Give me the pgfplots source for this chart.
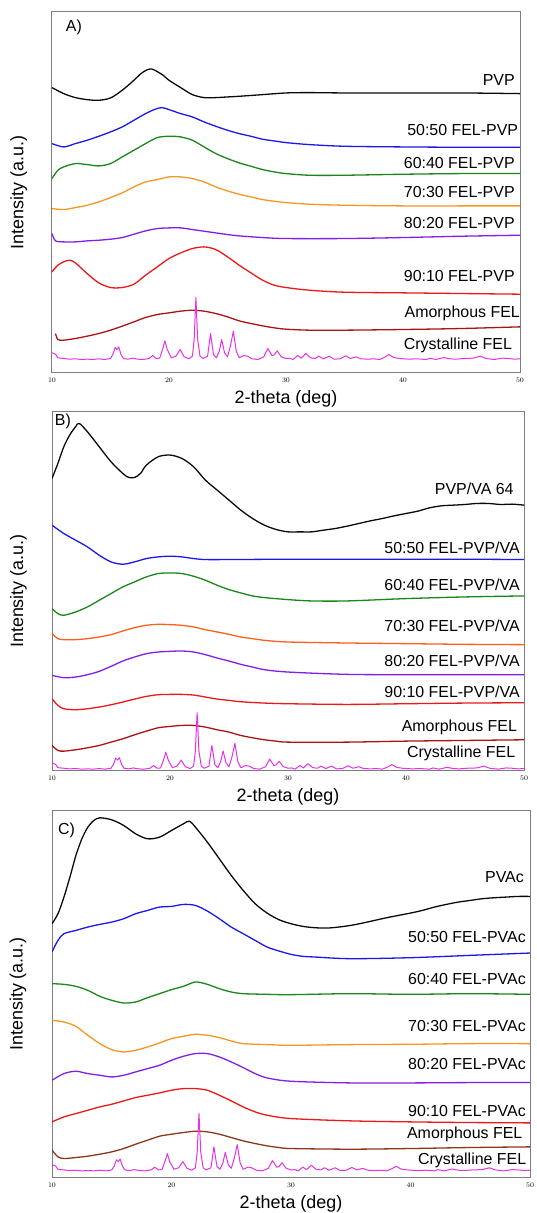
\documentclass[border=0pt]{standalone}
\usepackage{fontspec}
\setmainfont{Liberation Sans}
\usepackage{pgfplots}
\pgfplotsset{compat=1.18}
\usepackage{pgfplotstable}

\definecolor{cblack}{RGB}{10,10,10}
\definecolor{cblue}{RGB}{25,25,235}
\definecolor{cgreen}{RGB}{25,135,25}
\definecolor{corange}{RGB}{247,150,35}
\definecolor{corangered}{RGB}{255,95,30}
\definecolor{cpurple}{RGB}{130,30,230}
\definecolor{cred}{RGB}{235,25,25}
\definecolor{cdarkred}{RGB}{170,20,20}
\definecolor{cbrown}{RGB}{140,55,25}
\definecolor{cmagenta}{RGB}{230,50,230}
\definecolor{framegray}{RGB}{125,125,125}

\pgfplotstableread{
x I
10.0 20
10.3 16
10.5 5
11 3
11.5 1
12 2
12.5 0
13 1
13.5 0
14 2
14.5 0
15.0 3
15.2 15
15.4 36
15.55 30
15.7 38
15.9 15
16.1 3
16.5 1
16.9 4
17.3 1
17.8 0
18.3 3
18.6 12
18.9 3
19.2 4
19.45 30
19.65 56
19.85 30
20.2 5
20.6 10
20.95 30
21.3 8
21.7 2
22.0 10
22.15 60
22.3 186
22.45 60
22.65 10
22.9 3
23.3 10
23.55 78
23.8 15
24.05 5
24.3 25
24.5 60
24.75 20
25.0 8
25.25 40
25.5 85
25.75 25
26.0 5
26.4 12
26.7 10
27.1 2
27.6 0
28.1 8
28.45 33
28.8 12
29.0 14
29.25 26
29.6 8
30.0 3
30.3 4
30.6 0
31.0 12
31.3 4
31.7 18
32.1 5
32.5 3
32.8 10
33.2 2
33.7 10
34.1 1
34.6 2
35.1 11
35.5 3
36.0 8
36.4 2
37.0 1
37.5 2
38.0 0
38.5 8
38.8 15
39.2 6
39.7 3
40.5 1
41.2 2
42.0 0
42.3 4
42.8 0
43.5 6
44.0 2
44.5 1
45.2 3
46.0 4
46.6 10
47.1 3
47.8 0
48.5 4
49.0 3
49.5 1
50.0 2
}\crystFEL

\pgfplotsset{
  xrd/.style={
    scale only axis, anchor=south west,
    xmin=10, xmax=50, ymin=0,
    axis line style={draw=framegray, line width=1bp},
    xtick={10,20,30,40,50}, ytick=\empty,
    major tick length=0pt,
    xticklabel style={font=\fontsize{7.5}{8}\selectfont, anchor=center, yshift=-7.5bp},
    xlabel={2-theta (deg)}, ylabel={Intensity (a.u.)},
    label style={font=\fontsize{18}{20}\selectfont},
    xlabel style={at={(axis description cs:0.5,0)}, anchor=center, yshift=-26.5bp},
    ylabel style={at={(axis description cs:-0.071,0.5)}, anchor=center},
    clip mode=individual,
    every axis plot/.append style={line width=1.3bp, no marks, line join=round},
  },
}
\tikzset{
  lbl/.style={anchor=east, inner sep=0pt, font=\fontsize{16}{18}\selectfont},
  plbl/.style={anchor=west, inner sep=0pt, font=\fontsize{16}{18}\selectfont},
  cryst/.style={cmagenta, line width=1bp},
}

\begin{document}
\begin{tikzpicture}
\path[use as bounding box] (0,0) rectangle (537bp,1213bp);

% ---------------- Panel A ----------------
\begin{axis}[xrd, at={(52bp,840.5bp)}, width=468bp, height=360.5bp, ymax=1082]
\addplot[cblack, smooth] coordinates {(10,855)(11,837)(12,825)(13,819)(14,817)(15,824)(16,847)(17,877)(17.6,897)(18.1,908)(18.5,911)(18.9,905)(19.5,892)(20,877)(21,855)(22,834)(23,825)(24,825)(25,827)(26,829)(28,834)(30,839)(32,840)(35,839)(40,839)(45,839)(50,837)};
\addplot[cblue, smooth] coordinates {(10,687)(11,677)(12,687)(13,697)(14,709)(15,722)(16,737)(17,757)(18,777)(18.8,790)(19.4,795)(20,789)(21,777)(22,767)(23,752)(24,739)(25,727)(26,717)(27,709)(28,700)(29,695)(30,690)(32,684)(35,679)(40,677)(45,676)(50,676)};
\addplot[cgreen, smooth] coordinates {(10,582)(10.5,607)(11,617)(12,627)(13,624)(14,620)(15,627)(16,647)(17,667)(18,687)(19,705)(20,709)(21,707)(22,697)(23,677)(24,657)(25,642)(26,629)(27,619)(28,609)(29,602)(30,597)(32,592)(35,592)(40,595)(45,597)(50,597)};
\addplot[corange, smooth] coordinates {(10,492)(11,489)(12,495)(13,502)(14,512)(15,525)(16,539)(17,557)(18,572)(19,579)(20,587)(21,587)(22,582)(23,572)(24,557)(25,545)(26,535)(27,527)(28,519)(29,514)(30,510)(32,505)(35,502)(40,500)(45,500)(50,500)};
\addplot[cpurple, smooth] coordinates {(10,417)(10.3,395)(11,392)(12,392)(13,395)(14,397)(15,400)(16,405)(17,415)(18,425)(19,432)(20,434)(21,434)(22,429)(23,424)(24,419)(25,414)(26,410)(28,405)(30,402)(35,402)(40,405)(45,409)(50,412)};
\addplot[cred, smooth] coordinates {(10,302)(10.5,322)(11,332)(11.5,337)(12,329)(13,297)(14,269)(15,255)(16,255)(17,265)(18,292)(19,317)(20,342)(21,359)(22,372)(23,377)(24,369)(25,347)(26,322)(27,299)(28,277)(29,262)(30,255)(32,247)(35,241)(40,239)(45,237)(50,235)};
\addplot[cdarkred, smooth] coordinates {(10.3,117)(10.5,99)(11,97)(12,102)(13,109)(14,117)(15,127)(16,139)(17,152)(18,165)(19,174)(20,179)(21,184)(22,187)(23,184)(24,177)(25,167)(26,155)(27,147)(28,140)(29,134)(30,130)(32,127)(35,127)(40,129)(45,132)(50,137)};
\addplot[cryst] table[x=x, y expr=\thisrow{I}+39] {\crystFEL};
\node[plbl] at (axis cs:11.17,1035) {A)};
\node[lbl] at (axis cs:49.56,877) {PVP};
\node[lbl] at (axis cs:49.85,727) {50:50 FEL-PVP};
\node[lbl] at (axis cs:49.56,629) {60:40 FEL-PVP};
\node[lbl] at (axis cs:49.56,542) {70:30 FEL-PVP};
\node[lbl] at (axis cs:49.56,449) {80:20 FEL-PVP};
\node[lbl] at (axis cs:49.56,289) {90:10 FEL-PVP};
\node[lbl] at (axis cs:50,177) {Amorphous FEL};
\node[lbl] at (axis cs:49.33,80) {Crystalline FEL};
\end{axis}

% ---------------- Panel B ----------------
\begin{axis}[xrd, at={(52bp,442.5bp)}, width=472bp, height=358.8bp, ymax=1075]
\addplot[cblack, smooth] coordinates {(10,875)(10.5,920)(11,970)(11.5,1005)(12,1030)(12.3,1040)(13,1015)(14,970)(15,925)(16,890)(16.5,878)(17,878)(17.5,890)(18,915)(19,940)(20,945)(21,935)(22,910)(23,870)(24,840)(25,810)(26,780)(27,755)(28,735)(29,722)(30,715)(31,715)(32,715)(33,720)(34,725)(35,732)(36,740)(37,748)(38,755)(39,763)(40,770)(41,777)(42,787)(43,793)(44,795)(45,797)(46,800)(47,800)(48,797)(49,798)(50,795)};
\addplot[cblue, smooth] coordinates {(10,735)(11,710)(12,690)(13,670)(14,645)(15,625)(16,618)(17,625)(18,635)(19,640)(20,642)(21,640)(22,635)(23,632)(25,632)(30,633)(35,633)(40,633)(45,633)(50,632)};
\addplot[cgreen, smooth] coordinates {(10,485)(10.5,470)(11,465)(12,475)(13,490)(14,510)(15,530)(16,550)(17,565)(18,580)(19,590)(20,592)(21,590)(22,582)(23,570)(24,555)(25,542)(26,532)(27,523)(28,518)(30,512)(32,508)(35,508)(40,515)(45,520)(50,523)};
\addplot[corangered, smooth] coordinates {(10,410)(10.5,395)(11,392)(12,392)(13,395)(14,400)(15,407)(16,418)(17,428)(18,435)(19,438)(20,437)(21,435)(22,430)(23,422)(24,415)(25,408)(26,400)(27,395)(28,390)(30,385)(35,382)(40,380)(45,378)(50,377)};
\addplot[cpurple, smooth] coordinates {(10,285)(11,278)(12,280)(13,287)(14,297)(15,312)(16,328)(17,340)(18,350)(19,355)(20,357)(21,358)(22,355)(23,347)(24,337)(25,328)(26,318)(27,310)(28,302)(30,295)(35,288)(40,287)(45,287)(50,287)};
\addplot[cred, smooth] coordinates {(10,215)(10.5,195)(11,185)(12,182)(13,185)(14,190)(15,197)(16,205)(17,214)(18,222)(19,227)(20,228)(21,228)(22,226)(23,220)(24,214)(25,210)(26,206)(28,202)(30,200)(35,198)(40,200)(45,202)(50,203)};
\addplot[cdarkred, smooth] coordinates {(10,75)(10.5,60)(11,58)(12,62)(13,68)(14,75)(15,85)(16,95)(17,107)(18,118)(19,128)(20,132)(21,135)(22,135)(23,130)(24,122)(25,115)(26,105)(27,98)(28,92)(29,88)(30,85)(35,85)(40,88)(45,90)(50,92)};
\addplot[cryst] table[x=x, y expr=\thisrow{I}*0.91+4] {\crystFEL};
\node[plbl] at (axis cs:10.23,1045) {B)};
\node[lbl] at (axis cs:49.13,843) {PVP/VA 64};
\node[lbl] at (axis cs:49.65,668) {50:50 FEL-PVP/VA};
\node[lbl] at (axis cs:49.65,557) {60:40 FEL-PVP/VA};
\node[lbl] at (axis cs:49.65,435) {70:30 FEL-PVP/VA};
\node[lbl] at (axis cs:49.65,328) {80:20 FEL-PVP/VA};
\node[lbl] at (axis cs:49.65,235) {90:10 FEL-PVP/VA};
\node[lbl] at (axis cs:49.42,130) {Amorphous FEL};
\node[lbl] at (axis cs:49.27,50) {Crystalline FEL};
\end{axis}

% ---------------- Panel C ----------------
\begin{axis}[xrd, at={(52bp,35.5bp)}, width=478bp, height=367bp, ymax=1102]
\addplot[cblack, smooth] coordinates {(10,762)(10.5,792)(11,842)(11.5,902)(12,967)(12.5,1017)(13,1052)(13.5,1072)(14,1080)(15,1074)(16,1057)(17,1032)(18,1017)(19,1022)(20,1042)(21,1062)(21.5,1070)(22,1052)(23,1007)(24,957)(25,907)(26,862)(27,822)(28,794)(29,774)(30,762)(31,754)(32,750)(33,749)(34,752)(35,757)(36,764)(37,772)(38,780)(39,787)(40,794)(41,802)(42,812)(43,820)(44,827)(45,832)(46,837)(47,840)(48,842)(49,844)(50,844)};
\addplot[cblue, smooth] coordinates {(10,677)(10.5,712)(11,732)(12,742)(13,752)(14,760)(15,767)(16,777)(17,792)(18,802)(19,812)(20,814)(21,820)(22,817)(23,800)(24,777)(25,752)(26,732)(27,712)(28,692)(29,680)(30,670)(31,664)(32,662)(35,657)(40,660)(45,667)(50,674)};
\addplot[cgreen, smooth] coordinates {(10,582)(11,580)(12,574)(13,562)(14,544)(15,532)(16,524)(17,527)(18,540)(19,552)(20,564)(21,574)(22,587)(23,580)(24,567)(25,557)(26,552)(28,550)(30,549)(35,552)(40,550)(45,552)(50,550)};
\addplot[corange, smooth] coordinates {(10,472)(11,467)(12,454)(13,427)(14,402)(15,384)(16,377)(17,382)(18,392)(19,404)(20,417)(21,424)(22,430)(23,427)(24,420)(25,410)(26,402)(28,399)(30,397)(35,399)(40,400)(45,402)(50,402)};
\addplot[cpurple, smooth] coordinates {(10,292)(11,312)(12,319)(13,312)(14,307)(15,302)(16,307)(17,317)(18,327)(19,337)(20,352)(21,364)(22,372)(23,372)(24,362)(25,347)(26,330)(27,312)(28,299)(30,289)(35,284)(40,284)(45,285)(50,285)};
\addplot[cred, smooth] coordinates {(10,167)(11,182)(12,192)(13,202)(14,212)(15,220)(16,230)(17,240)(18,247)(19,254)(20,262)(21,267)(22,267)(23,262)(24,247)(25,230)(26,212)(27,197)(28,187)(30,177)(35,170)(40,167)(45,165)(50,164)};
\addplot[cbrown, smooth] coordinates {(10,82)(10.5,62)(11,57)(12,60)(13,64)(14,70)(15,77)(16,87)(17,100)(18,112)(19,124)(20,130)(21,135)(22,139)(23,137)(24,130)(25,120)(26,110)(27,102)(28,95)(29,90)(30,87)(35,85)(40,87)(45,90)(50,92)};
\addplot[cryst] table[x=x, y expr=\thisrow{I}*0.925+20] {\crystFEL};
\node[plbl] at (axis cs:10.5,1042) {C)};
\node[lbl] at (axis cs:49.5,902) {PVAc};
\node[lbl] at (axis cs:49.66,722) {50:50 FEL-PVAc};
\node[lbl] at (axis cs:49.66,595) {60:40 FEL-PVAc};
\node[lbl] at (axis cs:49.66,455) {70:30 FEL-PVAc};
\node[lbl] at (axis cs:49.66,342) {80:20 FEL-PVAc};
\node[lbl] at (axis cs:49.66,200) {90:10 FEL-PVAc};
\node[lbl] at (axis cs:49.37,130) {Amorphous FEL};
\node[lbl] at (axis cs:49.7,52) {Crystalline FEL};
\end{axis}
\end{tikzpicture}
\end{document}
